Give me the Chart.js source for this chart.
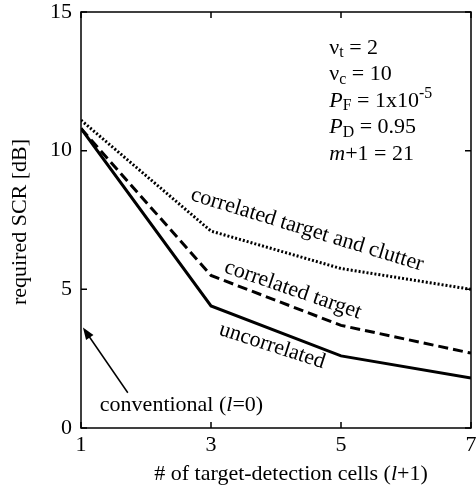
<!DOCTYPE html>
<html>
<head>
<meta charset="utf-8">
<script src="https://cdn.jsdelivr.net/npm/chart.js@4"></script>
<style>
  html, body { margin: 0; padding: 0; background: #fff; }
  #wrap { width: 476px; height: 493px; }
</style>
</head>
<body>
<div id="wrap"><canvas id="chart" width="476" height="493"></canvas></div>
<script>
// values
const cells = [1, 3, 5, 7]
const uncorrelated = [10.8, 4.4, 2.6, 1.8]
const corrTarget = [10.8, 5.5, 3.7, 2.7]
const corrTargetClutter = [11.1, 7.1, 5.75, 5.0]
const xTicks = [1, 3, 5, 7]
const yTicks = [0, 5, 10, 15]

const FONT = '"Liberation Serif", "Times New Roman", serif'
const SIZE = 22

function toPoints(ys) {
  return cells.map((c, i) => ({ x: c, y: ys[i] }))
}

// draws a run of text pieces (italic / sub / sup) starting at x
function drawRich(ctx, parts, x, y, size) {
  let cx = x
  for (const p of parts) {
    const s = (p.sub || p.sup) ? size * 0.72 : size
    ctx.font = (p.it ? 'italic ' : '') + s + 'px ' + FONT
    const dy = p.sub ? size * 0.22 : p.sup ? -size * 0.33 : 0
    ctx.fillText(p.t, cx, y + dy)
    cx += ctx.measureText(p.t).width
  }
  return cx - x
}

function richWidth(ctx, parts, size) {
  let w = 0
  for (const p of parts) {
    const s = (p.sub || p.sup) ? size * 0.72 : size
    ctx.font = (p.it ? 'italic ' : '') + s + 'px ' + FONT
    w += ctx.measureText(p.t).width
  }
  return w
}

const params = [
  [{ t: 'ν' }, { t: 't', sub: true }, { t: ' = 2' }],
  [{ t: 'ν' }, { t: 'c', sub: true }, { t: ' = 10' }],
  [{ t: 'P', it: true }, { t: 'F', sub: true }, { t: ' = 1x10' }, { t: '-5', sup: true }],
  [{ t: 'P', it: true }, { t: 'D', sub: true }, { t: ' = 0.95' }],
  [{ t: 'm', it: true }, { t: '+1 = 21' }]
]

const curveLabels = [
  { text: 'correlated target and clutter', x: 4.48, y: 7.15, angle: 17 },
  { text: 'correlated target', x: 4.26, y: 4.98, angle: 19 },
  { text: 'uncorrelated', x: 3.94, y: 2.96, angle: 18 }
]

const frameAndText = {
  id: 'frameAndText',
  afterDraw(chart) {
    const { ctx, chartArea: a, scales: { x, y } } = chart
    ctx.save()
    ctx.strokeStyle = '#000'
    ctx.fillStyle = '#000'

    // box + inward ticks
    ctx.lineWidth = 1.5
    ctx.strokeRect(a.left, a.top, a.right - a.left, a.bottom - a.top)
    const tl = 6
    ctx.beginPath()
    xTicks.forEach(v => {
      const px = x.getPixelForValue(v)
      ctx.moveTo(px, a.bottom); ctx.lineTo(px, a.bottom - tl)
      ctx.moveTo(px, a.top); ctx.lineTo(px, a.top + tl)
    })
    yTicks.forEach(v => {
      const py = y.getPixelForValue(v)
      ctx.moveTo(a.left, py); ctx.lineTo(a.left + tl, py)
      ctx.moveTo(a.right, py); ctx.lineTo(a.right - tl, py)
    })
    ctx.stroke()

    ctx.textBaseline = 'middle'
    ctx.textAlign = 'left'

    // axis titles
    const xt = [{ t: '# of target-detection cells (' }, { t: 'l', it: true }, { t: '+1)' }]
    const xw = richWidth(ctx, xt, SIZE)
    drawRich(ctx, xt, 291 - xw / 2, 474, SIZE)

    ctx.save()
    ctx.translate(20, 222)
    ctx.rotate(-Math.PI / 2)
    ctx.textAlign = 'center'
    ctx.font = SIZE + 'px ' + FONT
    ctx.fillText('required SCR [dB]', 0, 0)
    ctx.restore()

    // parameter block
    const px0 = x.getPixelForValue(4.82)
    const py0 = y.getPixelForValue(13.7)
    params.forEach((line, i) => drawRich(ctx, line, px0, py0 + i * 26.5, SIZE))

    // curve labels
    ctx.font = SIZE + 'px ' + FONT
    curveLabels.forEach(l => {
      ctx.save()
      ctx.translate(x.getPixelForValue(l.x), y.getPixelForValue(l.y))
      ctx.rotate(l.angle * Math.PI / 180)
      ctx.textAlign = 'center'
      ctx.fillText(l.text, 0, 0)
      ctx.restore()
    })

    // conventional arrow
    const conv = [{ t: 'conventional (' }, { t: 'l', it: true }, { t: '=0)' }]
    drawRich(ctx, conv, x.getPixelForValue(1.29), y.getPixelForValue(0.83), SIZE)

    const x1 = x.getPixelForValue(1.72), y1 = y.getPixelForValue(1.27)
    const x2 = x.getPixelForValue(1.03), y2 = y.getPixelForValue(3.62)
    const ang = Math.atan2(y2 - y1, x2 - x1)
    ctx.lineWidth = 1.5
    ctx.beginPath()
    ctx.moveTo(x1, y1)
    ctx.lineTo(x2 - 6 * Math.cos(ang), y2 - 6 * Math.sin(ang))
    ctx.stroke()
    ctx.beginPath()
    ctx.moveTo(x2, y2)
    ctx.lineTo(x2 - 12 * Math.cos(ang) + 4.5 * Math.sin(ang), y2 - 12 * Math.sin(ang) - 4.5 * Math.cos(ang))
    ctx.lineTo(x2 - 12 * Math.cos(ang) - 4.5 * Math.sin(ang), y2 - 12 * Math.sin(ang) + 4.5 * Math.cos(ang))
    ctx.closePath()
    ctx.fill()

    ctx.restore()
  }
}

new Chart(document.getElementById('chart'), {
  type: 'line',
  data: {
    datasets: [
      {
        label: 'uncorrelated',
        data: toPoints(uncorrelated),
        borderColor: '#000',
        borderWidth: 3,
        pointRadius: 0,
        tension: 0
      },
      {
        label: 'correlated target',
        data: toPoints(corrTarget),
        borderColor: '#000',
        borderWidth: 3,
        borderDash: [10, 5],
        pointRadius: 0,
        tension: 0
      },
      {
        label: 'correlated target and clutter',
        data: toPoints(corrTargetClutter),
        borderColor: '#000',
        borderWidth: 3,
        borderDash: [2, 2],
        pointRadius: 0,
        tension: 0
      }
    ]
  },
  options: {
    responsive: false,
    animation: false,
    devicePixelRatio: 1,
    layout: { padding: { top: 12, right: 5, left: 0, bottom: 0 } },
    plugins: {
      legend: { display: false },
      tooltip: { enabled: false }
    },
    scales: {
      x: {
        type: 'linear',
        min: 1,
        max: 7,
        afterBuildTicks: s => { s.ticks = xTicks.map(v => ({ value: v })) },
        afterFit: s => { s.height = 65; s.paddingLeft = 0; s.paddingRight = 0 },
        grid: { display: false, drawTicks: false },
        border: { display: false },
        ticks: {
          color: '#000',
          padding: 4,
          maxRotation: 0,
          font: { family: FONT, size: SIZE }
        }
      },
      y: {
        type: 'linear',
        min: 0,
        max: 15,
        afterBuildTicks: s => { s.ticks = yTicks.map(v => ({ value: v })) },
        afterFit: s => { s.width = 81; s.paddingTop = 0; s.paddingBottom = 0 },
        grid: { display: false, drawTicks: false },
        border: { display: false },
        ticks: {
          color: '#000',
          padding: 9,
          font: { family: FONT, size: SIZE }
        }
      }
    }
  },
  plugins: [frameAndText]
})
</script>
</body>
</html>
